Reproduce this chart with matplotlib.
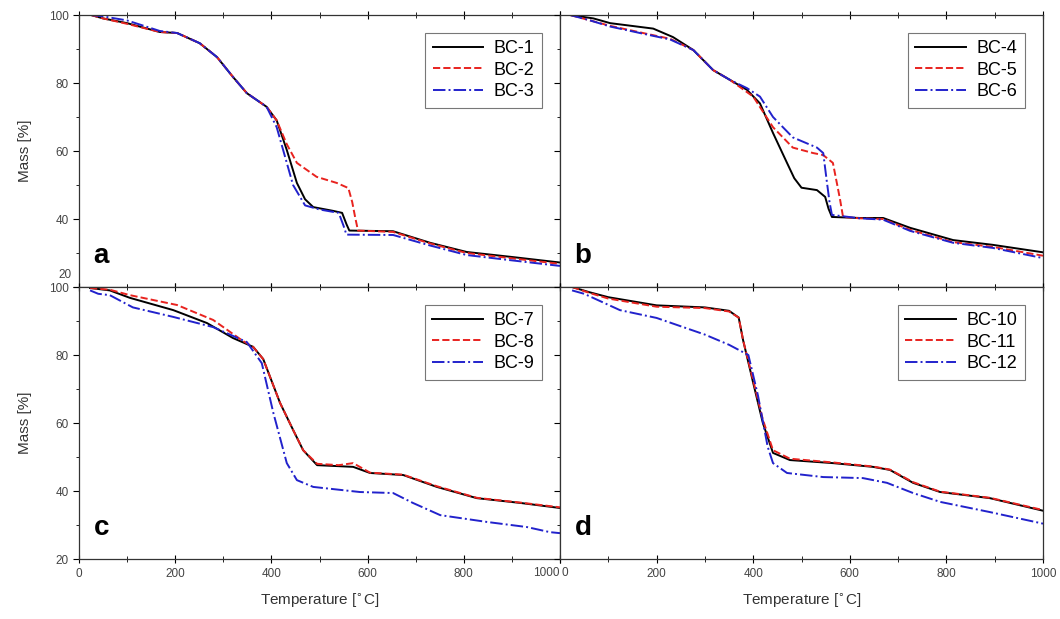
import numpy as np
import matplotlib
matplotlib.use('Agg')
from matplotlib import pyplot as plt
from matplotlib.ticker import MultipleLocator, FixedLocator

plt.rcParams['font.family'] = ['Liberation Sans', 'DejaVu Sans']

# panel a
x_a1 = [25, 50, 100, 168, 204, 251, 287, 320, 349, 390, 411, 432, 453, 470, 487, 528, 547, 556, 562, 653, 730, 806, 902, 1000]
y_a1 = [100, 99, 97.6, 95, 94.7, 91.7, 87.6, 81.8, 77, 73, 69, 60.3, 50.6, 45.8, 43.5, 42.4, 41.8, 38.5, 36.6, 36.4, 33, 30.3, 28.8, 27.2]
x_a2 = [25, 50, 100, 168, 204, 251, 287, 320, 349, 390, 411, 432, 453, 494, 536, 560, 568, 574, 580, 653, 730, 806, 902, 1000]
y_a2 = [100, 99, 97.4, 95, 94.7, 91.7, 87.6, 81.8, 77, 73, 69, 62, 56.5, 52.4, 50.6, 49.1, 45, 40.6, 36.6, 36.2, 32.8, 30, 28.4, 26.8]
x_a3 = [25, 50, 100, 168, 204, 251, 287, 320, 349, 390, 411, 425, 445, 470, 500, 540, 550, 556, 653, 730, 806, 902, 1000]
y_a3 = [100, 99.6, 98.4, 95.3, 94.7, 91.7, 87.6, 81.8, 77, 73, 67, 60, 50, 44, 42.8, 41.8, 38, 35.4, 35.3, 32.2, 29.4, 27.8, 26.2]

# panel b
x_b4 = [21, 69, 104, 193, 234, 276, 317, 352, 387, 414, 441, 470, 485, 500, 532, 549, 556, 563, 621, 669, 725, 814, 896, 1000]
y_b4 = [100, 99, 97.6, 96, 93.5, 89.7, 83.8, 80.9, 78, 74, 65.3, 56.5, 52, 49.2, 48.5, 46.5, 43, 40.6, 40.3, 40.3, 37.4, 33.8, 32.4, 30.2]
x_b5 = [21, 60, 104, 172, 228, 276, 317, 352, 400, 441, 482, 524, 545, 565, 574, 580, 586, 621, 669, 725, 814, 896, 1000]
y_b5 = [100, 98.5, 96.8, 94.7, 93, 89.7, 83.8, 80.9, 76, 67, 61, 59.4, 58.8, 56.5, 50, 45.6, 40.6, 40.2, 40, 36.8, 33.2, 31.8, 29.2]
x_b6 = [21, 60, 104, 172, 228, 276, 317, 352, 387, 414, 441, 482, 532, 545, 552, 558, 563, 621, 669, 725, 814, 896, 1000]
y_b6 = [100, 98.5, 96.6, 94.5, 92.8, 89.7, 83.8, 80.9, 78.5, 76, 70, 64, 61, 59.4, 51.5, 45, 41.2, 40.2, 39.8, 36.5, 33, 31.5, 28.5]

# panel c
x_c7 = [23, 64, 106, 196, 266, 320, 362, 383, 418, 445, 466, 495, 570, 605, 674, 744, 827, 917, 1000]
y_c7 = [99.7, 99, 96.8, 93.2, 89.4, 85, 82.4, 78.8, 65.9, 58, 52, 47.6, 47.1, 45.3, 44.7, 41.2, 37.9, 36.5, 35]
x_c8 = [23, 64, 106, 204, 279, 340, 362, 383, 418, 445, 466, 495, 540, 570, 580, 605, 674, 744, 827, 917, 1000]
y_c8 = [99.7, 99.2, 97.6, 94.7, 90.3, 84.2, 82.4, 78.8, 65.9, 58, 52, 48, 47.6, 48.2, 47.4, 45.4, 44.8, 41.4, 38, 36.6, 35.2]
x_c9 = [23, 40, 64, 112, 196, 279, 349, 380, 404, 432, 453, 487, 584, 653, 694, 751, 848, 931, 979, 1000]
y_c9 = [99, 98, 97.6, 94, 91.2, 88.2, 83.8, 77.6, 63, 48.2, 43.2, 41.2, 39.7, 39.4, 36.5, 32.9, 30.9, 29.4, 27.9, 27.6]

# panel d
x_d10 = [25, 60, 100, 200, 300, 350, 370, 379, 400, 420, 441, 476, 565, 648, 683, 731, 787, 890, 1000]
y_d10 = [100, 98.5, 97, 94.6, 94, 93, 91, 84.4, 71.8, 60, 51.2, 49.1, 48.2, 47.1, 46.2, 42.4, 39.7, 37.9, 34.2]
x_d11 = [25, 60, 100, 200, 300, 350, 370, 379, 400, 420, 441, 476, 565, 648, 683, 731, 787, 890, 1000]
y_d11 = [100, 98.3, 96.6, 94.2, 93.8, 92.8, 91, 84.4, 72.5, 61, 52, 49.5, 48.4, 47.2, 46.3, 42.6, 39.8, 38, 34.4]
x_d12 = [25, 50, 124, 200, 300, 350, 390, 410, 430, 441, 470, 545, 627, 677, 731, 787, 890, 1000]
y_d12 = [99, 98, 93.2, 90.9, 86, 83, 80, 68, 53, 48.2, 45.3, 44.1, 43.8, 42.4, 39.4, 36.8, 33.8, 30.4]

panels = [
    ('a', [x_a1, x_a2, x_a3], [y_a1, y_a2, y_a3], ['BC-1', 'BC-2', 'BC-3']),
    ('b', [x_b4, x_b5, x_b6], [y_b4, y_b5, y_b6], ['BC-4', 'BC-5', 'BC-6']),
    ('c', [x_c7, x_c8, x_c9], [y_c7, y_c8, y_c9], ['BC-7', 'BC-8', 'BC-9']),
    ('d', [x_d10, x_d11, x_d12], [y_d10, y_d11, y_d12], ['BC-10', 'BC-11', 'BC-12']),
]

colors = ['black', '#e8231f', '#2222cc']
styles = ['-', '--', '-.']

fig = plt.figure(figsize=(10.6, 6.19), dpi=100)
W, H = 1060.0, 619.0
pos = {
    'a': [79 / W, 1 - 287 / H, 481 / W, 272 / H],
    'b': [560 / W, 1 - 287 / H, 483 / W, 272 / H],
    'c': [79 / W, 1 - 559 / H, 481 / W, 272 / H],
    'd': [560 / W, 1 - 559 / H, 483 / W, 272 / H],
}
lab_kw = dict(fontsize=8.5, color='#444444')

for letter, xs, ys, names in panels:
    ax = fig.add_axes(pos[letter])
    for k in range(3):
        ax.plot(xs[k], ys[k], color=colors[k], linestyle=styles[k], lw=1.4, label=names[k])
    ax.set_xlim(0, 1000)
    ax.set_ylim(20, 100)
    ax.xaxis.set_major_locator(MultipleLocator(200))
    ax.xaxis.set_minor_locator(MultipleLocator(100))
    ax.yaxis.set_major_locator(MultipleLocator(20))
    ax.yaxis.set_minor_locator(MultipleLocator(10))
    ax.tick_params(axis='x', which='both', direction='inout', top=True, bottom=True)
    ax.tick_params(axis='x', which='major', length=6)
    ax.tick_params(axis='x', which='minor', length=4)
    ax.tick_params(axis='y', which='major', direction='out', length=4)
    ax.tick_params(axis='y', which='minor', direction='out', length=2.5)
    ax.tick_params(labelsize=8.5, labelcolor='#444444', width=0.8)
    for s in ax.spines.values():
        s.set_color('#333333')
        s.set_linewidth(0.9)
    if letter in ('a', 'b'):
        ax.tick_params(labelbottom=False)
    if letter in ('b', 'd'):
        ax.tick_params(labelleft=False)
    else:
        ax.set_ylabel('Mass [%]', fontsize=11, color='#333333', labelpad=12)
    if letter in ('c', 'd'):
        ax.set_xlabel(r'Temperature [$^{\circ}$C]', fontsize=11, color='#333333', labelpad=8)
    # where two panels meet the labels collide; draw those ones by hand, nudged apart
    if letter == 'a':
        ax.yaxis.set_major_locator(FixedLocator([20, 40, 60, 80, 100]))
        ax.set_yticklabels(['', '40', '60', '80', '100'])
        ax.text(-0.015, 0.022, '20', transform=ax.transAxes, ha='right', va='bottom', **lab_kw)
    if letter == 'c':
        ax.xaxis.set_major_locator(FixedLocator([0, 200, 400, 600, 800, 1000]))
        ax.set_xticklabels(['0', '200', '400', '600', '800', ''])
        ax.text(1.0, -0.03, '1000', transform=ax.transAxes, ha='right', va='top', **lab_kw)
    if letter == 'd':
        ax.xaxis.set_major_locator(FixedLocator([0, 200, 400, 600, 800, 1000]))
        ax.set_xticklabels(['', '200', '400', '600', '800', '1000'])
        ax.text(0.004, -0.03, '0', transform=ax.transAxes, ha='left', va='top', **lab_kw)
    ax.text(0.03, 0.09, letter, transform=ax.transAxes, fontsize=20, fontweight='bold')
    leg = ax.legend(loc='upper right', fontsize=13, handlelength=2.8, fancybox=False,
                    borderaxespad=1.0, labelspacing=0.25, handletextpad=0.6)
    leg.get_frame().set_edgecolor('#555555')
    leg.get_frame().set_linewidth(0.8)

fig.savefig('out.png', dpi=100)
